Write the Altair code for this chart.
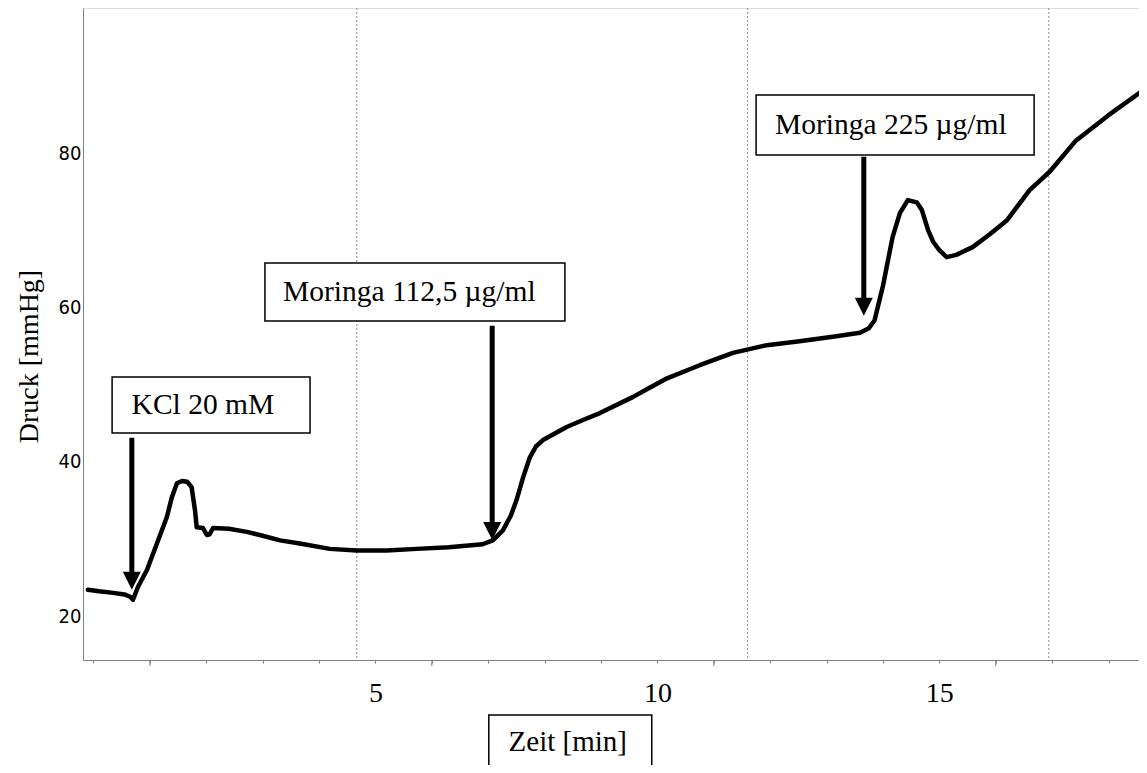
import altair as alt
import pandas as pd

# Pressure trace (time in min, pressure in mmHg)
t_min = [-0.1, 0.1, 0.35, 0.55, 0.65, 0.7, 0.79, 0.95, 1.13, 1.3, 1.39, 1.48, 1.57, 1.66, 1.74,
         1.80, 1.83, 1.94, 2.01, 2.06, 2.12, 2.4, 2.72, 3.0, 3.31, 3.66, 4.19, 4.67, 5.2, 5.73,
         6.3, 6.9, 7.08, 7.26, 7.4, 7.5, 7.62, 7.74, 7.85, 7.97, 8.39, 8.68, 8.98, 9.57, 9.87,
         10.17, 10.75, 11.34, 11.94, 12.52, 13.11, 13.59, 13.75, 13.85, 13.94, 14.0, 14.17, 14.3,
         14.44, 14.6, 14.69, 14.8, 14.89, 15.0, 15.13, 15.3, 15.59, 15.9, 16.2, 16.6, 16.96,
         17.42, 18.0, 18.55, 18.68]
druck = [23.4, 23.2, 23.0, 22.8, 22.5, 22.1, 23.8, 26.0, 29.5, 32.8, 35.4, 37.2, 37.5, 37.4, 36.7,
         33.7, 31.5, 31.4, 30.5, 30.6, 31.4, 31.3, 30.9, 30.4, 29.8, 29.4, 28.7, 28.5, 28.5, 28.7,
         28.9, 29.3, 29.8, 31.1, 33.0, 35.0, 38.0, 40.6, 42.0, 42.8, 44.5, 45.4, 46.3, 48.4, 49.6,
         50.8, 52.5, 54.1, 55.1, 55.6, 56.2, 56.7, 57.3, 58.3, 61.0, 62.8, 69.1, 72.2,
         73.9, 73.6, 72.6, 70.0, 68.5, 67.4, 66.5, 66.8, 67.8, 69.5, 71.3, 75.2, 77.6,
         81.6, 84.9, 87.8, 88.2]

# Comment markers (dotted vertical lines)
marker_t = [4.67, 11.6, 16.94]

# Annotation labels (boxes) in data units
ann_text = ["KCl 20 mM", "Moringa 112,5 µg/ml", "Moringa 225 µg/ml"]
box_x1 = [0.33, 3.04, 11.75]
box_x2 = [3.84, 8.36, 16.68]
box_y1 = [50.97, 65.74, 87.51]
box_y2 = [43.71, 58.23, 79.74]
txt_x = [1.94, 5.60, 14.14]
txt_y = [47.34, 61.99, 83.63]

# Arrows
arr_x = [0.68, 7.07, 13.66]
arr_top = [43.1, 57.6, 79.5]
arr_tip = [23.4, 29.85, 58.9]
arr_shaft_end = [24.6, 31.0, 60.1]

# x-axis title box
xt_label = ["Zeit [min]"]
xt_x1, xt_x2 = [7.01], [9.90]
xt_y1, xt_y2 = [7.17], [-6.0]
xt_tx, xt_ty = [8.41], [3.67]

major_ticks = [1, 6, 11, 16]

X_DOM = [-0.186, 18.54]
Y_DOM = [14.30, 98.79]
W, H = 1056, 652

xs = alt.Scale(domain=X_DOM, nice=False, zero=False)
ys = alt.Scale(domain=Y_DOM, nice=False, zero=False)

trace = pd.DataFrame({"t": t_min, "p": druck})
markers = pd.DataFrame({"t": marker_t})
boxes = pd.DataFrame({"x1": box_x1, "x2": box_x2, "y1": box_y1, "y2": box_y2,
                      "tx": txt_x, "ty": txt_y, "label": ann_text})
arrows = pd.DataFrame({"x": arr_x, "top": arr_top, "tip": arr_tip, "se": arr_shaft_end})
xtitle = pd.DataFrame({"x1": xt_x1, "x2": xt_x2, "y1": xt_y1, "y2": xt_y2,
                       "tx": xt_tx, "ty": xt_ty, "label": xt_label})
majors = pd.DataFrame({"t": major_ticks})

serif = "Liberation Serif"

x_axis = alt.Axis(
    values=list(range(0, 19)), format="d",
    labelExpr="(datum.value == 5 || datum.value == 10 || datum.value == 15) ? datum.label : ''",
    title=None, grid=False, tickSize=3, tickColor="#808080", domainColor="#808080",
    labelFont=serif, labelFontSize=28, labelColor="black", labelPadding=16,
    labelFlush=False, labelOverlap=False,
)
y_axis = alt.Axis(
    values=[20, 40, 60, 80], format="d", title="Druck [mmHg]", grid=False, ticks=False,
    domainColor="#808080", labelFont="DejaVu Sans Condensed", labelFontSize=20,
    labelColor="black", labelPadding=2,
    titleFont=serif, titleFontSize=28, titleFontWeight="normal", titleColor="black",
    titleAngle=270, titleBaseline="bottom", titleX=-40, titleY=348,
)

line = alt.Chart(trace).mark_line(color="black", strokeWidth=4.5, clip=True,
                                  strokeJoin="round", strokeCap="round").encode(
    x=alt.X("t:Q", scale=xs, axis=x_axis),
    y=alt.Y("p:Q", scale=ys, axis=y_axis),
)

dotted = alt.Chart(markers).mark_rule(color="#8c8c8c", strokeWidth=1, strokeDash=[2, 2]).encode(
    x=alt.X("t:Q", scale=xs)
)

tall_ticks = alt.Chart(majors).mark_rule(color="#808080", strokeWidth=1).encode(
    x=alt.X("t:Q", scale=xs), y=alt.value(H), y2=alt.value(H + 6)
)

rects = alt.Chart(boxes).mark_rect(fill="white", stroke="black", strokeWidth=1.5).encode(
    x=alt.X("x1:Q", scale=xs), x2="x2:Q",
    y=alt.Y("y1:Q", scale=ys), y2="y2:Q",
)
texts = alt.Chart(boxes).mark_text(font=serif, fontSize=29.5, align="center",
                                   baseline="middle", color="black").encode(
    x=alt.X("tx:Q", scale=xs), y=alt.Y("ty:Q", scale=ys), text="label:N"
)

xt_rect = alt.Chart(xtitle).mark_rect(fill="white", stroke="black", strokeWidth=1.5).encode(
    x=alt.X("x1:Q", scale=xs), x2="x2:Q",
    y=alt.Y("y1:Q", scale=ys), y2="y2:Q",
)
xt_text = alt.Chart(xtitle).mark_text(font=serif, fontSize=29, align="center",
                                      baseline="middle", color="black").encode(
    x=alt.X("tx:Q", scale=xs), y=alt.Y("ty:Q", scale=ys), text="label:N"
)

shafts = alt.Chart(arrows).mark_rule(color="black", strokeWidth=5).encode(
    x=alt.X("x:Q", scale=xs), y=alt.Y("top:Q", scale=ys), y2="se:Q"
)
heads = alt.Chart(arrows).mark_point(
    shape="M-0.5,-1L0.5,-1L0,0Z", size=1296, filled=True, color="black", opacity=1, strokeWidth=0
).encode(
    x=alt.X("x:Q", scale=xs), y=alt.Y("tip:Q", scale=ys)
)

chart = alt.layer(
    dotted, tall_ticks, line, rects, texts, xt_rect, xt_text, shafts, heads
).properties(
    width=W, height=H,
    autosize=alt.AutoSizeParams(type="none"),
    padding={"left": 75, "top": 0, "right": 0, "bottom": 105},
).configure_view(stroke=None).configure(background="white")

chart.save("out.html", embed_options={"renderer": "svg", "actions": False})
